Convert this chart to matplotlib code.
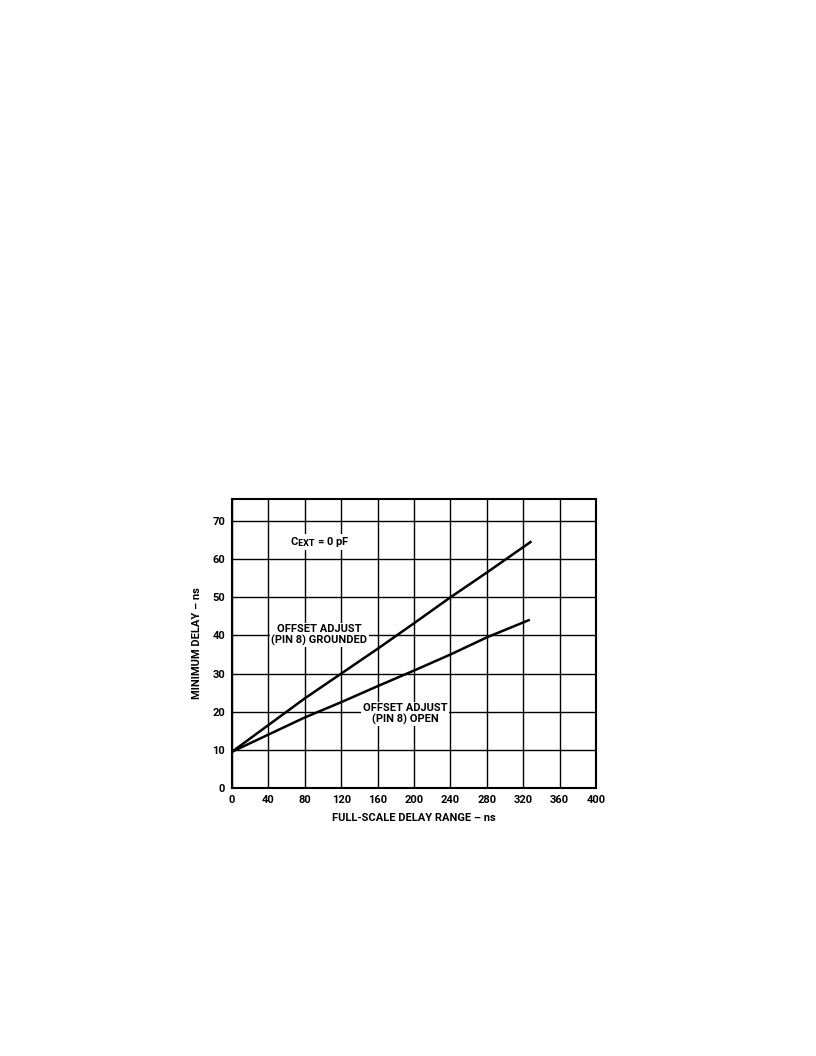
import matplotlib.pyplot as plt

plt.rcParams['font.family'] = ['Roboto', 'DejaVu Sans']
plt.rcParams['font.weight'] = 'bold'

# curves
grounded_x = [0, 40, 80, 120, 160, 200, 240, 280, 328]
grounded_y = [9.5, 16.5, 23.5, 30.0, 36.5, 43.2, 50.0, 56.5, 64.5]
open_x = [0, 40, 80, 120, 160, 200, 240, 280, 326]
open_y = [9.5, 14.0, 18.5, 22.5, 26.7, 30.8, 35.0, 39.5, 44.0]

x_ticks = [0, 40, 80, 120, 160, 200, 240, 280, 320, 360, 400]
y_ticks = [0, 10, 20, 30, 40, 50, 60, 70]

fig = plt.figure(figsize=(8.16, 10.56), dpi=100)
ax = fig.add_axes([0.2843, 0.2538, 0.4461, 0.2737])

ax.set_xlim(0, 400)
ax.set_ylim(0, 75.8)
ax.set_xticks(x_ticks)
ax.set_yticks(y_ticks)
ax.grid(True, color='black', linewidth=1.0)
ax.set_axisbelow(True)
ax.tick_params(length=0, labelsize=8, pad=5)
for lab in ax.get_xticklabels() + ax.get_yticklabels():
    lab.set_fontweight('bold')
for s in ax.spines.values():
    s.set_linewidth(1.5)

ax.plot(grounded_x, grounded_y, color='black', linewidth=1.8, zorder=3)
ax.plot(open_x, open_y, color='black', linewidth=1.8, zorder=3)

box = dict(facecolor='white', edgecolor='none', pad=1)
ax.text(96, 64.5, r'C$_{\mathbf{EXT}}$ = 0 pF', fontsize=8, fontweight='bold',
        ha='center', va='center', bbox=box, zorder=4)
ax.text(96, 40.2, 'OFFSET ADJUST\n(PIN 8) GROUNDED', fontsize=8, fontweight='bold',
        ha='center', va='center', linespacing=1.05, bbox=box, zorder=4)
ax.text(190, 19.4, 'OFFSET ADJUST\n(PIN 8) OPEN', fontsize=8, fontweight='bold',
        ha='center', va='center', linespacing=1.05, bbox=box, zorder=4)

ax.set_xlabel('FULL-SCALE DELAY RANGE \u2013 ns', fontsize=8, fontweight='bold', labelpad=6)
ax.set_ylabel('MINIMUM DELAY \u2013 ns', fontsize=8, fontweight='bold', labelpad=7)

fig.savefig('out.png', dpi=100)
